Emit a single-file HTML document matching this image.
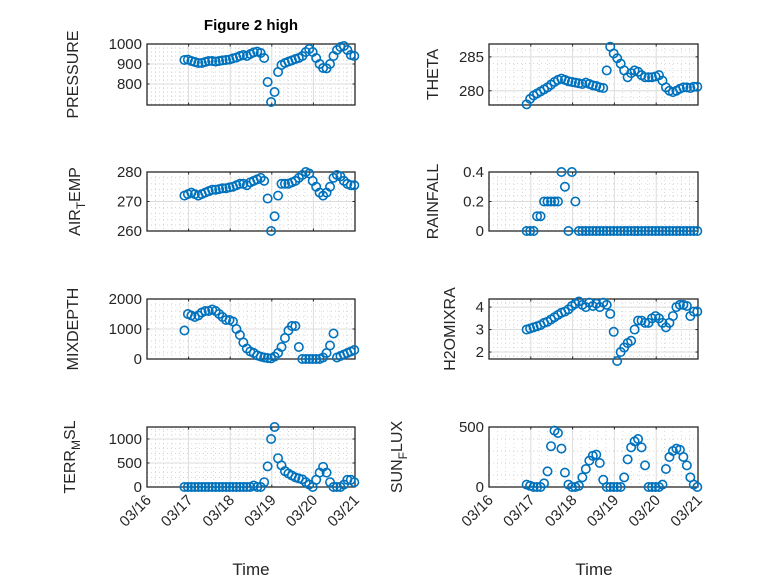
<!DOCTYPE html>
<html><head><meta charset="utf-8"><style>
html,body{margin:0;padding:0;background:#fff;}
svg{display:block;font-family:"Liberation Sans","DejaVu Sans",sans-serif;}
</style></head><body>
<svg id="fig" width="778" height="583" viewBox="0 0 778 583" xmlns="http://www.w3.org/2000/svg">
<rect x="0" y="0" width="778" height="583" fill="#fff"/>
<text x="251" y="30" text-anchor="middle" font-size="15" font-weight="bold" fill="#000">Figure 2 high</text>
</svg>
<script>
// time axis: days in March (index i -> 16.9 + i/12)
const dayStart = 16.9;
const dayStep = 2/24;
const xTickLabels = ["03/16","03/17","03/18","03/19","03/20","03/21"];
const xTickDays = [16,17,18,19,20,21];

const pressure = [920,922,915,910,905,905,910,915,915,912,915,918,920,922,928,932,940,945,940,950,958,962,955,930,810,710,760,860,895,905,912,918,925,930,940,960,975,960,930,900,880,878,900,940,970,985,990,970,945,940];
const theta = [278,278.8,279.3,279.6,279.9,280.2,280.5,280.9,281.3,281.6,281.8,281.6,281.4,281.3,281.2,281.1,281.0,281.2,281.0,280.8,280.7,280.5,280.4,283,286.5,285.5,284.8,284,283,282,282.6,283,282.8,282.3,282,282,282,282.1,282.3,281.5,280.5,280,279.8,280,280.3,280.5,280.5,280.4,280.6,280.6];
const airTemp = [272,272.5,273,272.5,272,272.5,273,273.5,274,274,274.2,274.5,274.5,274.8,275,275.5,276,276,275.5,276.5,277,277.5,278,277,271,260,265,272,276,276,276,276.5,277,278,279,280,279.5,277,275,273,272,273,275,278,279,278.5,277,276,275.5,275.5];
const rainfall = [0,0,0,0.1,0.1,0.2,0.2,0.2,0.2,0.2,0.4,0.3,0,0.4,0.2,0,0,0,0,0,0,0,0,0,0,0,0,0,0,0,0,0,0,0,0,0,0,0,0,0,0,0,0,0,0,0,0,0,0,0];
const mixDepth = [950,1500,1450,1400,1450,1550,1600,1600,1650,1600,1500,1400,1300,1300,1250,1000,800,550,350,250,200,120,80,50,30,20,80,200,400,700,950,1100,1100,400,0,0,0,0,0,0,50,200,450,850,50,100,150,200,250,300];
const h2oMix = [3.0,3.05,3.1,3.15,3.2,3.3,3.35,3.45,3.55,3.65,3.75,3.8,3.9,4.05,4.15,4.25,4.1,4.0,4.2,4.05,4.15,4.0,4.2,4.1,3.7,2.9,1.6,2.0,2.2,2.4,2.5,3.0,3.4,3.4,3.3,3.3,3.5,3.6,3.5,3.3,3.1,3.3,3.6,4.0,4.1,4.1,4.05,3.6,3.8,3.8];
const terrMsl = [0,0,0,0,0,0,0,0,0,0,0,0,0,0,0,0,0,0,0,0,30,0,0,100,430,1000,1250,600,450,330,280,240,200,180,160,100,50,0,150,300,420,300,100,0,0,0,50,150,150,100];
const sunFlux = [20,10,0,0,0,30,130,340,470,450,320,120,20,0,0,10,80,150,220,260,270,200,60,0,0,0,0,0,80,230,330,380,400,330,180,0,0,0,0,20,150,250,300,320,310,250,180,80,20,0];

const pressureTicks = [800,900,1000];
const thetaTicks = [280,285];
const airTicks = [260,270,280];
const rainTicks = [0,0.2,0.4];
const rainTickLabels = ["0","0.2","0.4"];
const mixTicks = [0,1000,2000];
const h2oTicks = [2,3,4];
const terrTicks = [0,500,1000];
const sunTicks = [0,500];

const NS = "http://www.w3.org/2000/svg";
const svg = document.getElementById("fig");
function mk(tag, attrs, parent){
  const e = document.createElementNS(NS, tag);
  for (const k in attrs) e.setAttribute(k, attrs[k]);
  (parent||svg).appendChild(e);
  return e;
}

const panels = [
  {id:"pressure", data:pressure, ticks:pressureTicks, min:695, max:1000, x0:147, x1:355, y0:44, y1:105, label:["PRESSURE"], lx:78},
  {id:"theta", data:theta, ticks:thetaTicks, min:277.9, max:286.9, x0:489, x1:698, y0:44, y1:105, label:["THETA"], lx:438},
  {id:"air-temp", data:airTemp, ticks:airTicks, min:260, max:280, x0:147, x1:355, y0:172, y1:231, label:["AIR","T","EMP"], lx:80},
  {id:"rainfall", data:rainfall, ticks:rainTicks, tl:rainTickLabels, min:0, max:0.4, x0:489, x1:698, y0:172, y1:231, label:["RAINFALL"], lx:438},
  {id:"mixdepth", data:mixDepth, ticks:mixTicks, min:0, max:2000, x0:147, x1:355, y0:299, y1:359, label:["MIXDEPTH"], lx:78},
  {id:"h2omixra", data:h2oMix, ticks:h2oTicks, min:1.69, max:4.36, x0:489, x1:698, y0:299, y1:359, label:["H2OMIXRA"], lx:455},
  {id:"terr-msl", data:terrMsl, ticks:terrTicks, min:0, max:1250, x0:147, x1:355, y0:427, y1:487, label:["TERR","M","SL"], lx:75},
  {id:"sun-flux", data:sunFlux, ticks:sunTicks, min:0, max:500, x0:489, x1:698, y0:427, y1:487, label:["SUN","F","LUX"], lx:402},
];

panels.forEach((p, pi) => {
  const g = mk("g", {});
  
  
  const xs = d => p.x0 + (d - 16) / 5 * (p.x1 - p.x0);
  const ys = v => p.y1 - (v - p.min) / (p.max - p.min) * (p.y1 - p.y0);
  for (let d = 16; d < 21; d += 0.2) {
    if (Math.abs(d - Math.round(d)) < 1e-6) continue;
    const l = mk("line", {x1:xs(d), x2:xs(d), y1:p.y0, y2:p.y1, stroke:"#c8c8c8", "stroke-width":0.7, "stroke-dasharray":"1,3"}, g);
    
    
  }
  const step = p.ticks[1] - p.ticks[0];
  for (let v = p.ticks[0] - step; v <= p.ticks[p.ticks.length-1] + step; v += step/5) {
    if (v <= p.min || v >= p.max) continue;
    const yy = ys(v);
    const l = mk("line", {x1:p.x0, x2:p.x1, y1:yy, y2:yy, stroke:"#c8c8c8", "stroke-width":0.7, "stroke-dasharray":"1,3"}, g);
    
    
  }
  xTickDays.forEach((d, k) => {
    const l = mk("line", {x1:xs(d), x2:xs(d), y1:p.y0, y2:p.y1, stroke:"#dcdcdc", "stroke-width":1}, g);
    
    
    mk("line", {x1:xs(d), x2:xs(d), y1:p.y1, y2:p.y1-2.5, stroke:"#262626", "stroke-width":1}, g);
    mk("line", {x1:xs(d), x2:xs(d), y1:p.y0, y2:p.y0+2.5, stroke:"#262626", "stroke-width":1}, g);
    if (pi >= 6) {
      const tx = xs(d) + 5, ty = p.y1 + 14;
      const t = mk("text", {x:tx, y:ty, "text-anchor":"end", "font-size":15, fill:"#262626", transform:`rotate(-45 ${tx} ${ty})`}, g);
      t.textContent = xTickLabels[k];
      
      
    }
  });
  p.ticks.forEach((v, k) => {
    const yy = ys(v);
    const l = mk("line", {x1:p.x0, x2:p.x1, y1:yy, y2:yy, stroke:"#dcdcdc", "stroke-width":1}, g);
    
    
    mk("line", {x1:p.x0, x2:p.x0+2.5, y1:yy, y2:yy, stroke:"#262626", "stroke-width":1}, g);
    mk("line", {x1:p.x1, x2:p.x1-2.5, y1:yy, y2:yy, stroke:"#262626", "stroke-width":1}, g);
    const t = mk("text", {x:p.x0-5, y:yy+5, "text-anchor":"end", "font-size":15, fill:"#262626"}, g);
    t.textContent = p.tl ? p.tl[k] : String(v);
    
    
  });
  const b = mk("rect", {x:p.x0, y:p.y0, width:p.x1-p.x0, height:p.y1-p.y0, fill:"none", stroke:"#262626", "stroke-width":1.3}, g);
  
  
  p.data.forEach((v, i) => {
    const c = mk("circle", {cx:xs(dayStart + i*dayStep), cy:ys(v), r:4.2, fill:"none", stroke:"#0072BD", "stroke-width":1.6}, g);
    
    
  });
  const cy = (p.y0 + p.y1) / 2;
  const t = mk("text", {x:p.lx, y:cy, "text-anchor":"middle", "font-size":16, fill:"#262626", transform:`rotate(-90 ${p.lx} ${cy})`}, g);
  
  
  if (p.label.length === 1) t.textContent = p.label[0];
  else {
    const a = mk("tspan", {}, t); a.textContent = p.label[0];
    const s = mk("tspan", {"font-size":12, dy:5}, t); s.textContent = p.label[1];
    const c2 = mk("tspan", {dy:-5}, t); c2.textContent = p.label[2];
  }
});

[[251,"time-label-left"],[594,"time-label-right"]].forEach(([x, n]) => {
  const t = mk("text", {x:x, y:575, "text-anchor":"middle", "font-size":17, fill:"#262626"});
  t.textContent = "Time";
  
  
});
</script>
</body></html>
